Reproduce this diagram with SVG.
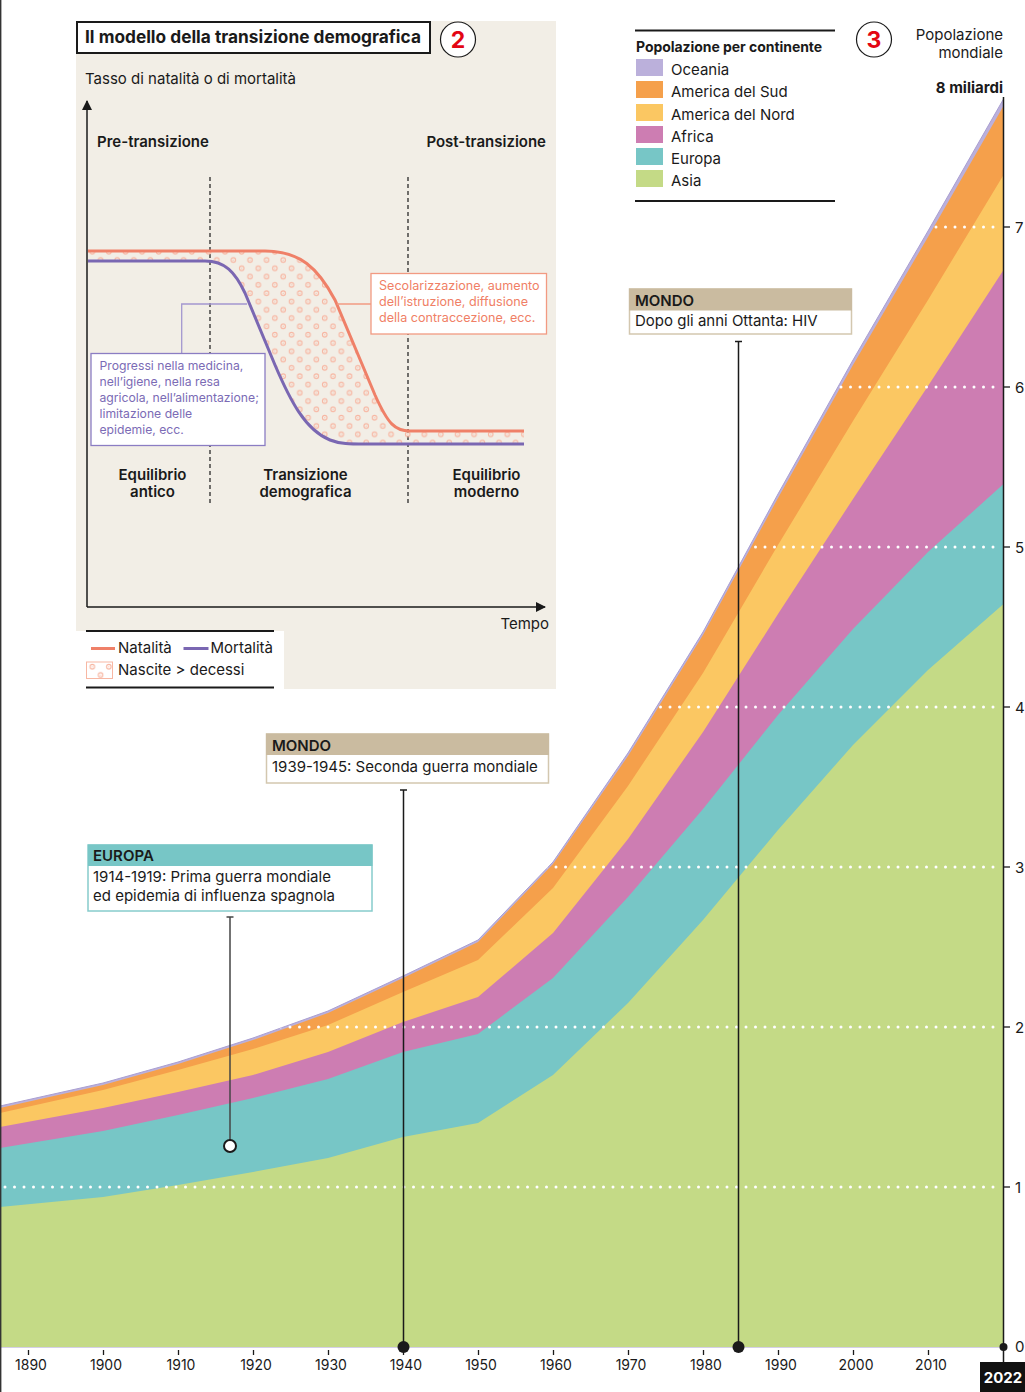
<svg xmlns="http://www.w3.org/2000/svg" width="1025" height="1392" viewBox="0 0 1025 1392">
<style>
text{font-family:Inter,"Liberation Sans",sans-serif;fill:#1a1a1a}
.b{font-weight:700}
.s{font-weight:600}
.t15{font-size:15px}
.t14{font-size:14px}
.yr{font-size:14px;text-anchor:middle}
.ax{font-size:15px}
.pur{fill:#7B6BB5;font-size:12.2px}
.cor{fill:#F07F66;font-size:12.6px}
.grid{stroke:#fff;stroke-width:3;stroke-linecap:round;stroke-dasharray:0 9.5;fill:none}
.tick{stroke:#1a1a1a;stroke-width:1.3}
.dash{stroke:#1a1a1a;stroke-width:1.2;stroke-dasharray:4 3;fill:none}
</style>
<defs>
<pattern id="dots" width="16.6" height="16.6" patternUnits="userSpaceOnUse" x="245.85" y="255.85">
<circle cx="4.15" cy="4.15" r="2.3" fill="none" stroke="#F7B7A3" stroke-width="1.1"/>
<circle cx="4.15" cy="4.15" r="0.6" fill="#F7B7A3"/>
<circle cx="12.45" cy="12.45" r="2.3" fill="none" stroke="#F7B7A3" stroke-width="1.1"/>
<circle cx="12.45" cy="12.45" r="0.6" fill="#F7B7A3"/>
</pattern>
<clipPath id="areaClip">
<polygon points="0,1106 103,1083 178,1062 253,1038 328,1011 403,976 478,940 553,862 628,753 703,632 778,494 853,360 928,231 1003.5,99 1003.5,1347 0,1347"/>
</clipPath>
<marker id="arr" viewBox="0 0 10 10" refX="9" refY="5" markerWidth="10" markerHeight="10" markerUnits="userSpaceOnUse" orient="auto">
<path d="M0,0 L10,5 L0,10 Z" fill="#1a1a1a"/>
</marker>
</defs>
<rect width="1025" height="1392" fill="#fff"/>

<!-- stacked areas -->
<g id="areas">
<polygon fill="#BBB0DB" stroke="#A99FD2" stroke-width="1" points="0,1106 103,1083 178,1062 253,1038 328,1011 403,976 478,940 553,862 628,753 703,632 778,494 853,360 928,231 1003.5,99 1003.5,1347 0,1347"/>
<polygon fill="#F5A04B" points="0,1108 103,1085 178,1064 253,1040 328,1013 403,978 478,942 553,864 628,756 703,635 778,498 853,365 928,237 1003.5,106 1003.5,1347 0,1347"/>
<polygon fill="#FBC762" points="0,1113 103,1090 178,1070 253,1049 328,1025 403,992 478,960 553,888 628,786 703,673 778,545 853,421 928,300 1003.5,175 1003.5,1347 0,1347"/>
<polygon fill="#CD7DB2" points="0,1127 103,1108 178,1092 253,1075 328,1052 403,1022 478,997 553,933 628,839 703,732 778,614 853,499 928,386 1003.5,270 1003.5,1347 0,1347"/>
<polygon fill="#77C6C6" points="0,1148 103,1131 178,1115 253,1098 328,1079 403,1052 478,1034 553,978 628,897 703,809 778,715 853,629 928,552 1003.5,484 1003.5,1347 0,1347"/>
<polygon fill="#C4DA86" points="0,1207 103,1197 178,1185 253,1172 328,1158 403,1137 478,1123 553,1075 628,1003 703,920 778,830 853,745 928,670 1003.5,604 1003.5,1347 0,1347"/>
</g>
<g id="gridlines" clip-path="url(#areaClip)">
<line class="grid" x1="5" y1="1187" x2="1000" y2="1187"/>
<line class="grid" x1="5" y1="1027" x2="1000" y2="1027"/>
<line class="grid" x1="5" y1="867" x2="1000" y2="867"/>
<line class="grid" x1="5" y1="707" x2="1000" y2="707"/>
<line class="grid" x1="5" y1="547" x2="1000" y2="547"/>
<line class="grid" x1="5" y1="387" x2="1000" y2="387"/>
<line class="grid" x1="5" y1="227" x2="1000" y2="227"/>
</g>

<!-- page edge -->
<line x1="0.7" y1="0" x2="0.7" y2="1392" stroke="#333" stroke-width="1.4"/>

<!-- right axis -->
<g id="y-axis">
<line x1="1003.5" y1="97" x2="1003.5" y2="1362" stroke="#1a1a1a" stroke-width="1.5"/>
<line class="tick" x1="1003.5" y1="1187" x2="1010" y2="1187"/>
<line class="tick" x1="1003.5" y1="1027" x2="1010" y2="1027"/>
<line class="tick" x1="1003.5" y1="867" x2="1010" y2="867"/>
<line class="tick" x1="1003.5" y1="707" x2="1010" y2="707"/>
<line class="tick" x1="1003.5" y1="547" x2="1010" y2="547"/>
<line class="tick" x1="1003.5" y1="387" x2="1010" y2="387"/>
<line class="tick" x1="1003.5" y1="227" x2="1010" y2="227"/>
<text class="ax" x="1015" y="1193">1</text>
<text class="ax" x="1015" y="1033">2</text>
<text class="ax" x="1015" y="873">3</text>
<text class="ax" x="1015" y="713">4</text>
<text class="ax" x="1015" y="553">5</text>
<text class="ax" x="1015" y="393">6</text>
<text class="ax" x="1015" y="233">7</text>
<text class="ax" x="1015" y="1352">0</text>
<circle cx="1003.5" cy="1347" r="4" fill="#1a1a1a"/>
<text class="t15" x="1003" y="40" text-anchor="end">Popolazione</text>
<text class="t15" x="1003" y="58" text-anchor="end">mondiale</text>
<text class="t15 b" x="1003" y="93" text-anchor="end">8 miliardi</text>
</g>

<!-- x axis -->
<g id="x-axis">
<g class="tick">
<line x1="28.5" y1="1350" x2="28.5" y2="1355"/>
<line x1="103.5" y1="1350" x2="103.5" y2="1355"/>
<line x1="178.5" y1="1350" x2="178.5" y2="1355"/>
<line x1="253.5" y1="1350" x2="253.5" y2="1355"/>
<line x1="328.5" y1="1350" x2="328.5" y2="1355"/>
<line x1="403.5" y1="1350" x2="403.5" y2="1355"/>
<line x1="478.5" y1="1350" x2="478.5" y2="1355"/>
<line x1="553.5" y1="1350" x2="553.5" y2="1355"/>
<line x1="628.5" y1="1350" x2="628.5" y2="1355"/>
<line x1="703.5" y1="1350" x2="703.5" y2="1355"/>
<line x1="778.5" y1="1350" x2="778.5" y2="1355"/>
<line x1="853.5" y1="1350" x2="853.5" y2="1355"/>
<line x1="928.5" y1="1350" x2="928.5" y2="1355"/>
</g>
<text class="yr" x="31" y="1370">1890</text>
<text class="yr" x="106" y="1370">1900</text>
<text class="yr" x="181" y="1370">1910</text>
<text class="yr" x="256" y="1370">1920</text>
<text class="yr" x="331" y="1370">1930</text>
<text class="yr" x="406" y="1370">1940</text>
<text class="yr" x="481" y="1370">1950</text>
<text class="yr" x="556" y="1370">1960</text>
<text class="yr" x="631" y="1370">1970</text>
<text class="yr" x="706" y="1370">1980</text>
<text class="yr" x="781" y="1370">1990</text>
<text class="yr" x="856" y="1370">2000</text>
<text class="yr" x="931" y="1370">2010</text>
<rect x="980" y="1362" width="45" height="30" fill="#111"/>
<text class="t15 b" x="1003" y="1383" text-anchor="middle" style="fill:#fff">2022</text>
</g>

<!-- connectors -->
<g id="connectors" stroke="#1a1a1a" stroke-width="1.5" fill="none">
<line x1="230" y1="917" x2="230" y2="1140" stroke="#444"/>
<line x1="226.5" y1="917" x2="233.5" y2="917" stroke="#444"/>
<line x1="403.5" y1="790" x2="403.5" y2="1347"/>
<line x1="400" y1="790" x2="407" y2="790"/>
<line x1="738.5" y1="341.5" x2="738.5" y2="1347"/>
<line x1="735" y1="341.5" x2="742" y2="341.5"/>
<circle cx="230" cy="1146" r="6" fill="#fff" stroke="#1a1a1a" stroke-width="2"/>
<circle cx="403.5" cy="1347" r="6" fill="#1a1a1a" stroke="none"/>
<circle cx="738.5" cy="1347" r="6" fill="#1a1a1a" stroke="none"/>
</g>

<!-- annotation boxes -->
<g id="note-europa">
<rect x="88" y="845" width="284" height="66" fill="#fff" stroke="#86CCCC" stroke-width="1.5"/>
<rect x="88" y="844.5" width="284.5" height="21.5" fill="#77C6C6"/>
<text class="t15 s" x="93" y="861">EUROPA</text>
<text class="t15" x="93" y="882">1914-1919: Prima guerra mondiale</text>
<text class="t15" x="93" y="901">ed epidemia di influenza spagnola</text>
</g>
<g id="note-ww2">
<rect x="266.5" y="734" width="282" height="49" fill="#fff" stroke="#D3C7AF" stroke-width="1.5"/>
<rect x="266" y="733.5" width="283" height="21.5" fill="#CABBA0"/>
<text class="t15 s" x="272" y="751">MONDO</text>
<text class="t15" x="272" y="772">1939-1945: Seconda guerra mondiale</text>
</g>
<g id="note-hiv">
<rect x="629.5" y="289" width="222" height="45" fill="#fff" stroke="#D3C7AF" stroke-width="1.5"/>
<rect x="629" y="288.5" width="223" height="22" fill="#CABBA0"/>
<text class="t15 s" x="635" y="306">MONDO</text>
<text class="t15" x="635" y="326">Dopo gli anni Ottanta: HIV</text>
</g>

<!-- legend continents -->
<g id="legend-continenti">
<line x1="635" y1="30.5" x2="835" y2="30.5" stroke="#1a1a1a" stroke-width="2"/>
<text class="b" x="636" y="52" style="font-size:14px;letter-spacing:-0.05px">Popolazione per continente</text>
<rect x="636" y="59" width="27" height="17" fill="#BBB0DB"/>
<rect x="636" y="81" width="27" height="17" fill="#F5A04B"/>
<rect x="636" y="104" width="27" height="17" fill="#FBC762"/>
<rect x="636" y="126" width="27" height="17" fill="#CD7DB2"/>
<rect x="636" y="148" width="27" height="17" fill="#77C6C6"/>
<rect x="636" y="170" width="27" height="17" fill="#C4DA86"/>
<text class="t15" x="671" y="75">Oceania</text>
<text class="t15" x="671" y="97">America del Sud</text>
<text class="t15" x="671" y="119.5">America del Nord</text>
<text class="t15" x="671" y="141.5">Africa</text>
<text class="t15" x="671" y="163.5">Europa</text>
<text class="t15" x="671" y="185.5">Asia</text>
<line x1="635" y1="201" x2="835" y2="201" stroke="#1a1a1a" stroke-width="2"/>
</g>
<g id="badge-3">
<circle cx="874" cy="39.5" r="17.5" fill="#fff" stroke="#1a1a1a" stroke-width="1.2"/>
<text x="874" y="48" text-anchor="middle" class="b" style="font-size:23px;fill:#E30613">3</text>
</g>

<!-- inset: demographic transition model -->
<g id="inset">
<rect x="76" y="21" width="480" height="668" fill="#F2EEE6"/>
<g id="inset-title">
<rect x="77" y="22" width="353" height="31" fill="#fff" stroke="#1a1a1a" stroke-width="2"/>
<text class="b" x="85" y="43" style="font-size:17.3px">Il modello della transizione demografica</text>
</g>
<g id="badge-2">
<circle cx="458" cy="39.5" r="17.5" fill="#fff" stroke="#1a1a1a" stroke-width="1.2"/>
<text x="458" y="48" text-anchor="middle" class="b" style="font-size:23px;fill:#E30613">2</text>
</g>
<text class="t15" x="85" y="84">Tasso di natalità o di mortalità</text>
<g id="inset-axes" stroke="#1a1a1a" stroke-width="1.5" fill="none">
<line x1="87" y1="607" x2="87" y2="101" marker-end="url(#arr)"/>
<line x1="87" y1="607" x2="545" y2="607" marker-end="url(#arr)"/>
</g>
<text class="t15" x="549" y="629" text-anchor="end">Tempo</text>
<text class="t15 s" x="97" y="147">Pre-transizione</text>
<text class="t15 s" x="546" y="147" text-anchor="end">Post-transizione</text>
<line class="dash" x1="210" y1="177" x2="210" y2="503"/>
<line class="dash" x1="408" y1="177" x2="408" y2="503"/>
<path id="births-gt-deaths" fill="url(#dots)" d="M88,251 H265 C300,251 318,268 335,300 L375,395 C388,424 395,431 410,431 H524 V444 H365 C350,444 340,444 330,440 C305,430 290,400 275,365 L245,293 C235,272 225,261 205,261 H88 Z"/>
<path id="natalita" fill="none" stroke="#EF8068" stroke-width="3" d="M88,251 H265 C300,251 318,268 335,300 L375,395 C388,424 395,431 410,431 H524"/>
<path id="mortalita" fill="none" stroke="#7A67B2" stroke-width="3" d="M88,261 H205 C225,261 235,272 245,293 L275,365 C290,400 305,430 330,440 C340,444 350,444 365,444 H524"/>
<g id="note-purple">
<polyline points="181.7,353 181.7,304 247,304" fill="none" stroke="#A497CF" stroke-width="1.3"/>
<rect x="91" y="353.5" width="174" height="92" fill="#fff" stroke="#8B7DC3" stroke-width="1.3"/>
<text class="pur" x="99.5" y="370">Progressi nella medicina,</text>
<text class="pur" x="99.5" y="386">nell’igiene, nella resa</text>
<text class="pur" x="99.5" y="402">agricola, nell’alimentazione;</text>
<text class="pur" x="99.5" y="418">limitazione delle</text>
<text class="pur" x="99.5" y="434">epidemie, ecc.</text>
</g>
<g id="note-coral">
<line x1="337" y1="304" x2="371" y2="304" stroke="#F29A82" stroke-width="1.3"/>
<rect x="371" y="273.5" width="175.5" height="60.5" fill="#fff" stroke="#F29A82" stroke-width="1.3"/>
<text class="cor" x="379" y="290">Secolarizzazione, aumento</text>
<text class="cor" x="379" y="306">dell’istruzione, diffusione</text>
<text class="cor" x="379" y="322">della contraccezione, ecc.</text>
</g>
<g id="phases">
<text class="t15 s" x="152.5" y="480" text-anchor="middle">Equilibrio</text>
<text class="t15 s" x="152.5" y="497" text-anchor="middle">antico</text>
<text class="t15 s" x="305.5" y="480" text-anchor="middle">Transizione</text>
<text class="t15 s" x="305.5" y="497" text-anchor="middle">demografica</text>
<text class="t15 s" x="486.5" y="480" text-anchor="middle">Equilibrio</text>
<text class="t15 s" x="486.5" y="497" text-anchor="middle">moderno</text>
</g>
<g id="inset-legend">
<rect x="76" y="631" width="208" height="58" fill="#fff"/>
<line x1="86" y1="631" x2="274" y2="631" stroke="#1a1a1a" stroke-width="2"/>
<line x1="91" y1="648.5" x2="115" y2="648.5" stroke="#EF8068" stroke-width="3"/>
<text class="t15" x="118" y="653">Natalità</text>
<line x1="183.5" y1="648.5" x2="208.5" y2="648.5" stroke="#7A67B2" stroke-width="3"/>
<text class="t15" x="210.5" y="653">Mortalità</text>
<rect x="86.5" y="662" width="26" height="16.5" fill="url(#dots)" stroke="#F7B7A3" stroke-width="1"/>
<text class="t15" x="118" y="675">Nascite &gt; decessi</text>
<line x1="86" y1="687.5" x2="274" y2="687.5" stroke="#1a1a1a" stroke-width="2"/>
</g>
</g>
</svg>
